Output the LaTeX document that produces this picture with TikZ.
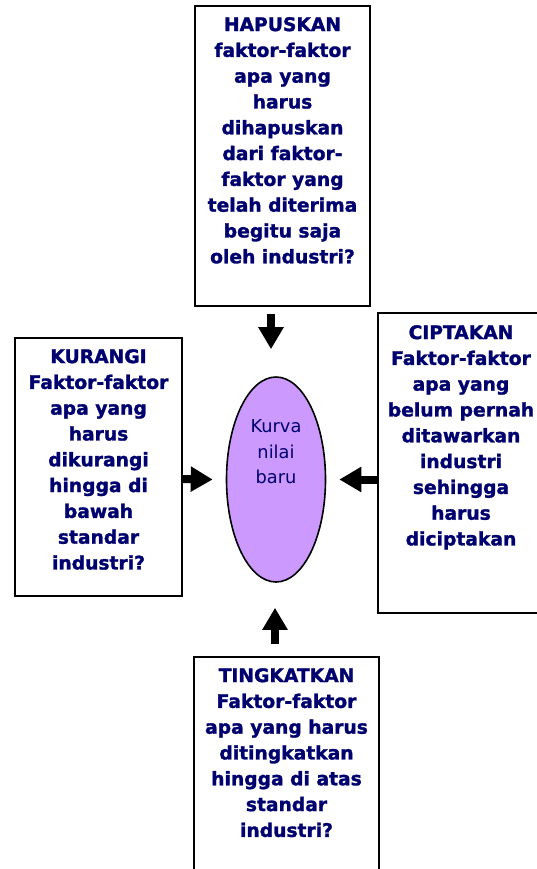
\documentclass[tikz,border=0pt]{standalone}
\usepackage{fontspec}
\setmainfont{DejaVu Sans}
\newfontfamily\boxfont{DejaVu Sans Bold}[FakeBold=1.5]
\usetikzlibrary{arrows.meta,shapes.geometric}
\definecolor{navytext}{RGB}{0,0,110}
\definecolor{lilac}{RGB}{204,153,255}
\begin{document}
\begin{tikzpicture}[x=1pt,y=1pt,
  boxstyle/.style={draw=black,line width=2pt,fill=white,inner sep=0pt,rectangle},
  boxtext/.style={anchor=north,inner sep=0pt,align=center,text=navytext,
    font={\fontsize{18.7pt}{25.8pt}\selectfont\boxfont}},
  blockarrow/.style={line width=8pt,-{Triangle[width=24pt,length=22pt]}}]
\useasboundingbox (0,0) rectangle (537,-869);
\clip (0,0) rectangle (537,-869);
% boxes
\node[boxstyle,minimum width=175pt,minimum height=300pt] (top) at (282.5,-156) {};
\node[boxstyle,minimum width=167pt,minimum height=258pt] (left) at (98.5,-467) {};
\node[boxstyle,minimum width=168pt,minimum height=300pt] (right) at (462,-463) {};
\node[boxstyle,minimum width=185pt,minimum height=223pt] (bottom) at (286.5,-768.5) {};
% ellipse
\node[ellipse,draw=black,line width=1.6pt,fill=lilac,minimum width=99pt,minimum height=205pt,inner sep=0pt] (ell) at (276,-479.5) {};
\node[inner sep=0pt,align=center,text=navytext,font={\fontsize{17.8pt}{25.5pt}\selectfont}] (elltext) at (276,-452) {Kurva\\nilai\\baru};
% texts
\node[boxtext] (toptext) at (282.5,-17) {HAPUSKAN\\faktor-faktor\\apa yang\\harus\\dihapuskan\\dari faktor-\\faktor yang\\telah diterima\\begitu saja\\oleh industri?};
\node[boxtext] (lefttext) at (98.5,-349) {KURANGI\\Faktor-faktor\\apa yang\\harus\\dikurangi\\hingga di\\bawah\\standar\\industri?};
\node[boxtext] (righttext) at (461,-325) {CIPTAKAN\\Faktor-faktor\\apa yang\\belum pernah\\ditawarkan\\industri\\sehingga\\harus\\diciptakan};
\node[boxtext] (bottomtext) at (286.5,-668) {TINGKATKAN\\Faktor-faktor\\apa yang harus\\ditingkatkan\\hingga di atas\\standar\\industri?};
% arrows
\draw[blockarrow] ([xshift=-11.5pt,yshift=-7pt]top.south) -- ([xshift=-5pt,yshift=27pt]ell.north);
\draw[blockarrow] ([yshift=-12pt]left.east) -- ([xshift=-13pt]ell.west);
\draw[blockarrow] ([yshift=-16.5pt]right.west) -- ([xshift=13pt]ell.east);
\draw[blockarrow] ([xshift=-11.5pt,yshift=12pt]bottom.north) -- ([xshift=-1pt,yshift=-25pt]ell.south);
\end{tikzpicture}
\end{document}
